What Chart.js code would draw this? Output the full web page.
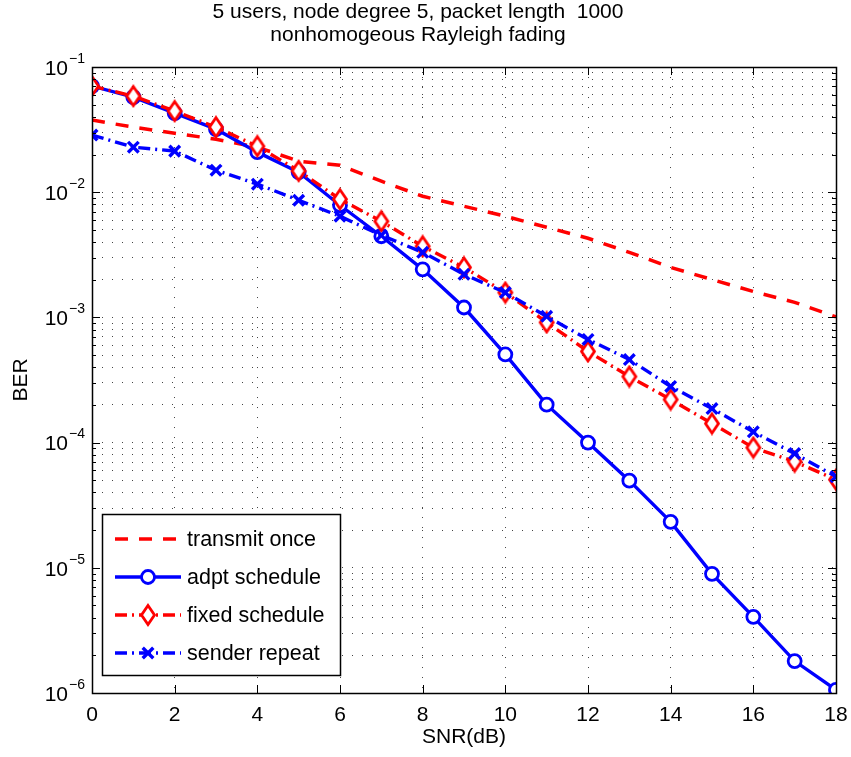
<!DOCTYPE html>
<html>
<head>
<meta charset="utf-8">
<script src="https://cdn.jsdelivr.net/npm/chart.js@4.4.0/dist/chart.umd.min.js"></script>
<style>
  html, body { margin: 0; padding: 0; background: #fff; }
  #marco { width: 851px; height: 757px; }
</style>
</head>
<body>
<div id="marco"><canvas id="grafico"></canvas></div>
<script>
// Datos
var snr = [0, 1, 2, 3, 4, 5, 6, 7, 8, 9, 10, 11, 12, 13, 14, 15, 16, 17, 18];
var transmitOnce = [0.0377, 0.0331, 0.0296, 0.0265, 0.0229, 0.0177, 0.0164, 0.01225, 0.00929, 0.00773,
                    0.00643, 0.00525, 0.00429, 0.00331, 0.00251, 0.00201, 0.00161, 0.00132, 0.00101];
var adptSchedule = [0.0705, 0.0575, 0.0429, 0.0319, 0.0209, 0.01445, 0.00787, 0.00445, 0.00242, 0.0012,
                    0.000506, 0.000201, 0.0001, 4.97e-5, 2.33e-5, 8.95e-6, 4.06e-6, 1.8e-6, 1.06e-6];
var fixedSchedule = [0.0705, 0.0586, 0.0445, 0.0331, 0.0233, 0.0148, 0.00879, 0.00586, 0.0037, 0.00251,
                     0.00158, 0.000912, 0.000535, 0.000337, 0.000221, 0.000142, 9.12e-5, 7.05e-5, 5.06e-5];
var senderRepeat = [0.0286, 0.0229, 0.0213, 0.015, 0.0116, 0.00863, 0.00643, 0.00453, 0.00331, 0.00221,
                    0.00158, 0.00102, 0.000667, 0.000461, 0.000281, 0.000187, 0.000122, 8.17e-5, 5.35e-5];
var nombres = ['transmit once', 'adpt schedule', 'fixed schedule', 'sender repeat'];
var xTicks = [0, 2, 4, 6, 8, 10, 12, 14, 16, 18];
var yDecadas = [1e-6, 1e-5, 1e-4, 1e-3, 1e-2, 1e-1];
var yExponentes = ['\u22126', '\u22125', '\u22124', '\u22123', '\u22122', '\u22121'];
var titulo = ['5 users, node degree 5, packet length  1000', 'nonhomogeous Rayleigh fading'];

var fuente = 'Liberation Sans, Arial, Helvetica, sans-serif';
var tam = 21;

// marcas menores de la escala log (1..9 por decada)
var yMarcas = [];
yDecadas.forEach(function(d, i) {
    if (i === yDecadas.length - 1) { yMarcas.push(d); return; }
    for (var k = 1; k <= 9; k++) yMarcas.push(d * k);
});

function puntos(serie) {
    return snr.map(function(x, i) { return { x: x, y: serie[i] }; });
}

// rombo un poco mas alto que ancho, como el de MATLAB
function hacerRombo() {
    var c = document.createElement('canvas');
    c.width = 18; c.height = 24;
    var g = c.getContext('2d');
    g.beginPath();
    g.moveTo(9, 2.5); g.lineTo(15.5, 12); g.lineTo(9, 21.5); g.lineTo(2.5, 12); g.closePath();
    g.fillStyle = '#fff'; g.fill();
    g.lineWidth = 2.8; g.strokeStyle = '#ff0000'; g.stroke();
    return c;
}
var rombo = hacerRombo();

var datos = {
    datasets: [
        {
            label: nombres[0],
            data: puntos(transmitOnce),
            borderColor: '#ff0000',
            borderWidth: 3.5,
            borderDash: [13, 11],
            pointRadius: 0,
            order: 4
        },
        {
            label: nombres[1],
            data: puntos(adptSchedule),
            borderColor: '#0000ff',
            borderWidth: 3.4,
            pointStyle: 'circle',
            pointRadius: 6.5,
            pointBorderWidth: 2.8,
            pointBorderColor: '#0000ff',
            pointBackgroundColor: '#ffffff',
            order: 3
        },
        {
            label: nombres[2],
            data: puntos(fixedSchedule),
            borderColor: '#ff0000',
            borderWidth: 3.4,
            borderDash: [12, 5, 2, 5],
            pointStyle: rombo,
            pointRadius: 9,
            order: 2
        },
        {
            label: nombres[3],
            data: puntos(senderRepeat),
            borderColor: '#0000ff',
            borderWidth: 3.4,
            borderDash: [12, 5, 2, 5],
            pointStyle: 'crossRot',
            pointRadius: 7.5,
            pointBorderWidth: 3.4,
            pointBorderColor: '#0000ff',
            order: 1
        }
    ]
};

function dibujarMarca(ctx, ds, x, y) {
    var r = ds.pointRadius;
    if (typeof ds.pointStyle === 'object') {
        ctx.drawImage(ds.pointStyle, x - ds.pointStyle.width / 2, y - ds.pointStyle.height / 2);
        return;
    }
    ctx.fillStyle = ds.pointBackgroundColor || '#fff';
    ctx.strokeStyle = ds.pointBorderColor || ds.borderColor;
    ctx.lineWidth = ds.pointBorderWidth || 1;
    ctx.beginPath();
    if (ds.pointStyle === 'circle') {
        ctx.arc(x, y, r, 0, Math.PI * 2);
        ctx.fill();
    } else {
        var d = r * Math.SQRT1_2;
        ctx.moveTo(x - d, y - d); ctx.lineTo(x + d, y + d);
        ctx.moveTo(x + d, y - d); ctx.lineTo(x - d, y + d);
    }
    ctx.stroke();
}

var marcoMatlab = {
    id: 'marcoMatlab',
    afterDraw: function(chart) {
        var ctx = chart.ctx;
        var a = chart.chartArea;
        var sx = chart.scales.x, sy = chart.scales.y;
        ctx.save();
        ctx.strokeStyle = '#000';
        ctx.lineWidth = 1;
        // marcas hacia dentro
        ctx.beginPath();
        yMarcas.forEach(function(v) {
            var y = Math.round(sy.getPixelForValue(v)) + 0.5;
            var largo = yDecadas.indexOf(v) >= 0 ? 8 : 4;
            ctx.moveTo(a.left, y); ctx.lineTo(a.left + largo, y);
            ctx.moveTo(a.right, y); ctx.lineTo(a.right - largo, y);
        });
        xTicks.forEach(function(v) {
            var x = Math.round(sx.getPixelForValue(v)) + 0.5;
            ctx.moveTo(x, a.bottom); ctx.lineTo(x, a.bottom - 8);
            ctx.moveTo(x, a.top); ctx.lineTo(x, a.top + 8);
        });
        ctx.stroke();
        ctx.lineWidth = 1.5;
        ctx.strokeRect(Math.round(a.left) + 0.5, Math.round(a.top) + 0.5,
                       Math.round(a.right - a.left), Math.round(a.bottom - a.top));

        // etiquetas 10^n del eje y
        ctx.fillStyle = '#000';
        ctx.textBaseline = 'middle';
        yDecadas.forEach(function(v, i) {
            var y = sy.getPixelForValue(v);
            ctx.font = tam + 'px ' + fuente;
            ctx.textAlign = 'right';
            ctx.fillText('10', a.left - 24, y + 2);
            ctx.font = '14px ' + fuente;
            ctx.textAlign = 'left';
            ctx.fillText(yExponentes[i], a.left - 23, y - 8);
        });

        // leyenda dentro del area
        var lx = a.left + 10, lw = 238, lh = 161;
        var ly = a.bottom - 18 - lh;
        ctx.fillStyle = '#fff';
        ctx.fillRect(lx, ly, lw, lh);
        ctx.strokeStyle = '#000';
        ctx.lineWidth = 1.5;
        ctx.strokeRect(Math.round(lx) + 0.5, Math.round(ly) + 0.5, lw, lh);
        chart.data.datasets.forEach(function(ds, i) {
            var yy = ly + 25 + i * 38;
            ctx.save();
            ctx.strokeStyle = ds.borderColor;
            ctx.lineWidth = ds.borderWidth;
            ctx.setLineDash(ds.borderDash || []);
            ctx.beginPath();
            ctx.moveTo(lx + 13, yy); ctx.lineTo(lx + 79, yy);
            ctx.stroke();
            ctx.setLineDash([]);
            if (ds.pointRadius > 0) dibujarMarca(ctx, ds, lx + 46, yy);
            ctx.restore();
            ctx.fillStyle = '#000';
            ctx.font = '21.5px ' + fuente;
            ctx.textAlign = 'left';
            ctx.textBaseline = 'middle';
            ctx.fillText(ds.label, lx + 85, yy + 1);
        });
        ctx.restore();
    }
};

var config = {
    type: 'line',
    data: datos,
    options: {
        responsive: true,
        maintainAspectRatio: false,
        animation: false,
        layout: { padding: { left: 0, right: 15, top: 0, bottom: 0 } },
        plugins: {
            legend: { display: false },
            tooltip: { enabled: false },
            title: {
                display: true,
                text: titulo,
                color: '#000',
                font: { family: fuente, size: tam, weight: 'normal', lineHeight: 1.12 },
                padding: { top: 0, bottom: 20 }
            }
        },
        elements: { line: { tension: 0 } },
        scales: {
            x: {
                type: 'linear',
                min: 0,
                max: 18,
                afterBuildTicks: function(scale) {
                    scale.ticks = xTicks.map(function(v) { return { value: v }; });
                },
                afterFit: function(scale) {
                    scale.height = 64;
                    scale.paddingLeft = 0;
                    scale.paddingRight = 0;
                },
                ticks: { color: '#000', font: { family: fuente, size: tam }, padding: 10, maxRotation: 0 },
                grid: { color: '#444', lineWidth: 1, drawTicks: false },
                border: { display: false, dash: [1, 9] },
                title: {
                    display: true, text: 'SNR(dB)', color: '#000',
                    font: { family: fuente, size: tam }, padding: { top: 0, bottom: 7 }
                }
            },
            y: {
                type: 'logarithmic',
                min: 1e-6,
                max: 1e-1,
                afterBuildTicks: function(scale) {
                    scale.ticks = yMarcas.map(function(v) { return { value: v }; });
                },
                afterFit: function(scale) { scale.width = 92; },
                ticks: { display: false },
                grid: { color: '#444', lineWidth: 1, drawTicks: false },
                border: { display: false, dash: [1, 9] },
                title: {
                    display: true, text: 'BER', color: '#000',
                    font: { family: fuente, size: tam }, padding: { top: 9, bottom: 0 }
                }
            }
        }
    },
    plugins: [marcoMatlab]
};

var grafico = new Chart(document.getElementById('grafico'), config);
</script>
</body>
</html>
